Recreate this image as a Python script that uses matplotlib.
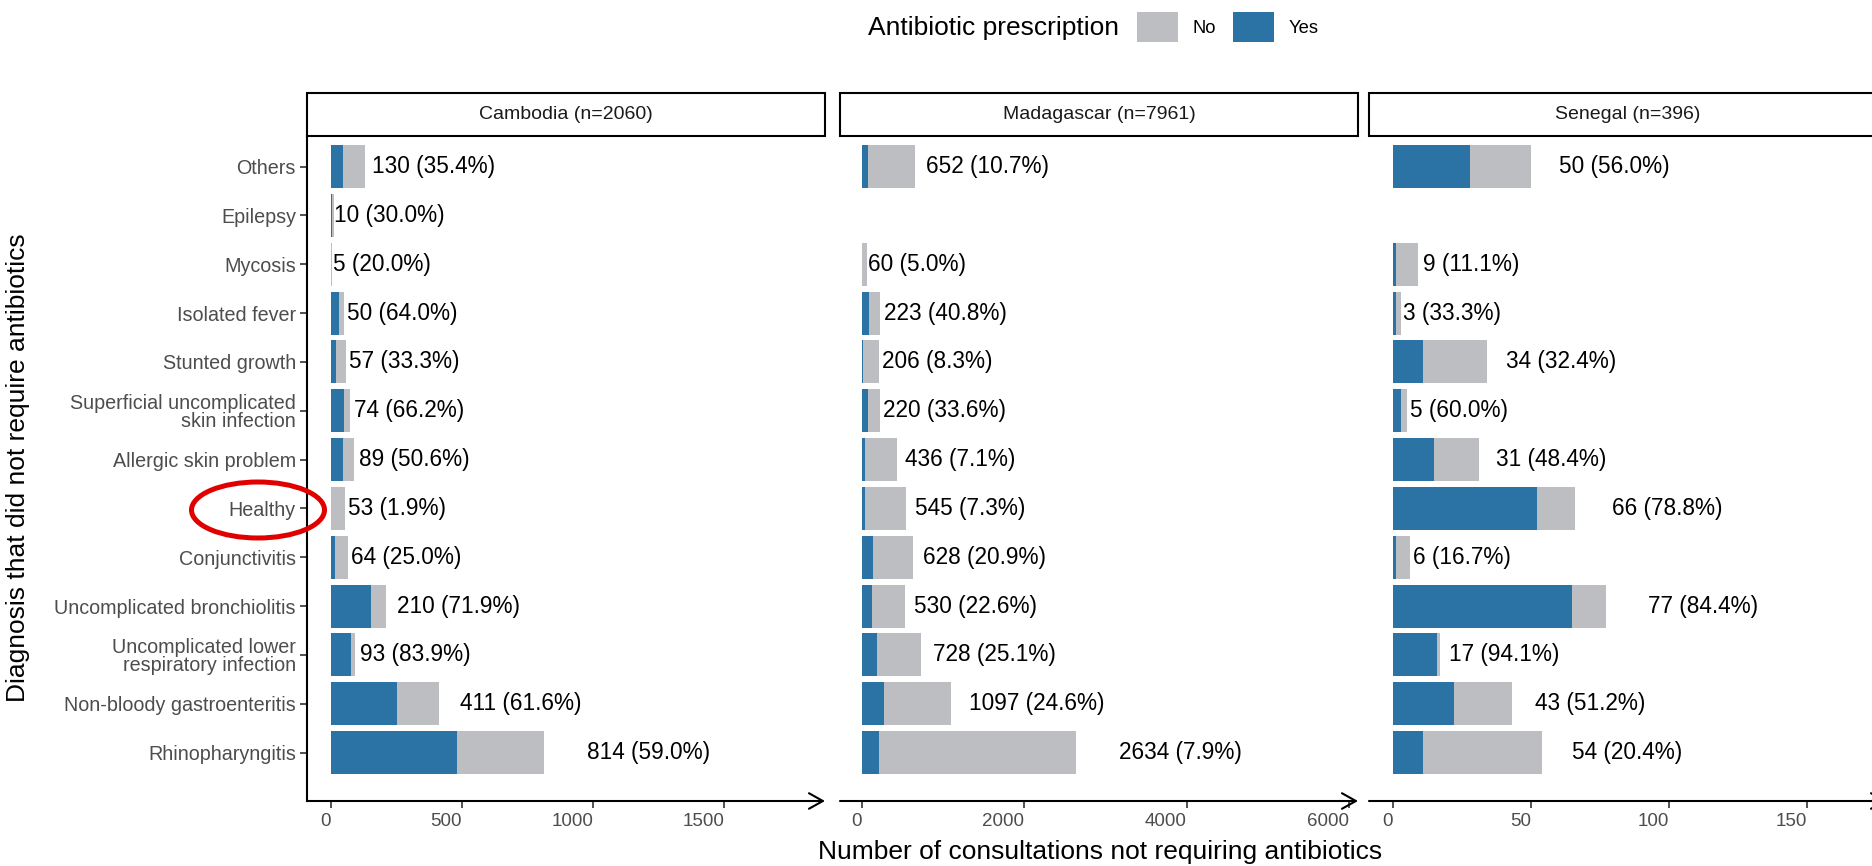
import numpy as np
import matplotlib
matplotlib.use("Agg")
import matplotlib.pyplot as plt
from matplotlib.patches import Rectangle, Ellipse, Patch

plt.rcParams['font.family'] = ['Liberation Sans', 'DejaVu Sans']

# ---------------- data ----------------
diagnoses = ["Others", "Epilepsy", "Mycosis", "Isolated fever", "Stunted growth",
             "Superficial uncomplicated\nskin infection", "Allergic skin problem", "Healthy",
             "Conjunctivitis", "Uncomplicated bronchiolitis",
             "Uncomplicated lower\nrespiratory infection", "Non-bloody gastroenteritis",
             "Rhinopharyngitis"]
countries = ["Cambodia (n=2060)", "Madagascar (n=7961)", "Senegal (n=396)"]

cambodia_total = [130, 10, 5, 50, 57, 74, 89, 53, 64, 210, 93, 411, 814]
cambodia_pct = [35.4, 30.0, 20.0, 64.0, 33.3, 66.2, 50.6, 1.9, 25.0, 71.9, 83.9, 61.6, 59.0]
madagascar_total = [652, np.nan, 60, 223, 206, 220, 436, 545, 628, 530, 728, 1097, 2634]
madagascar_pct = [10.7, np.nan, 5.0, 40.8, 8.3, 33.6, 7.1, 7.3, 20.9, 22.6, 25.1, 24.6, 7.9]
senegal_total = [50, np.nan, 9, 3, 34, 5, 31, 66, 6, 77, 17, 43, 54]
senegal_pct = [56.0, np.nan, 11.1, 33.3, 32.4, 60.0, 48.4, 78.8, 16.7, 84.4, 94.1, 51.2, 20.4]

x_ticks = [[0, 500, 1000, 1500], [0, 2000, 4000, 6000], [0, 50, 100, 150]]
x_limits = [(-91.6, 1885), (-272, 6111), (-8.7, 179)]

legend_title = "Antibiotic prescription"
legend_labels = ["No", "Yes"]
x_title = "Number of consultations not requiring antibiotics"
y_title = "Diagnosis that did not require antibiotics"

# ---------------- style ----------------
BLUE = "#2C73A5"
GRAY = "#BDBEC2"
W, H = 1872, 866

fig = plt.figure(figsize=(W / 100, H / 100), dpi=100)

panel_left_px = [307, 840, 1369]
panel_w_px = 518
panel_top_px, panel_bot_px = 136, 801
strip_h_px = 43

totals = [cambodia_total, madagascar_total, senegal_total]
pcts = [cambodia_pct, madagascar_pct, senegal_pct]
ypos = np.arange(len(diagnoses))

axes = []
for i in range(3):
    ax = fig.add_axes([panel_left_px[i] / W, 1 - panel_bot_px / H,
                       panel_w_px / W, (panel_bot_px - panel_top_px) / H])
    axes.append(ax)
    tot = np.array(totals[i], dtype=float)
    pc = np.array(pcts[i], dtype=float)
    yes = tot * pc / 100.0
    no = tot - yes
    ax.barh(ypos, yes, height=0.88, color=BLUE, linewidth=0)
    ax.barh(ypos, no, left=yes, height=0.88, color=GRAY, linewidth=0)
    for y, t, p in zip(ypos, tot, pc):
        if np.isnan(t):
            continue
        ax.text(t * 1.2, y, f"{int(t)} ({p:.1f}%)", ha="left", va="center",
                fontsize=16.3, color="black")
    ax.set_xlim(*x_limits[i])
    ax.set_ylim(12.99, -0.625)
    ax.set_xticks(x_ticks[i])
    ax.set_xticklabels([str(v) for v in x_ticks[i]], ha="right")
    ax.tick_params(axis="x", length=5, width=1.2, color="#333333",
                   labelsize=13.5, labelcolor="#4D4D4D", pad=4)
    for s in ["top", "right", "bottom"]:
        ax.spines[s].set_visible(False)
    if i == 0:
        ax.set_yticks(ypos)
        ax.set_yticklabels(diagnoses, fontsize=14.2, color="#4D4D4D", linespacing=0.95)
        ax.tick_params(axis="y", length=5, width=1.2, color="#333333", pad=3)
        ax.spines["left"].set_linewidth(1.5)
    else:
        ax.spines["left"].set_visible(False)
        ax.set_yticks([])
    ax.annotate("", xy=(1, 0), xytext=(0, 0), xycoords="axes fraction",
                textcoords="axes fraction", annotation_clip=False,
                arrowprops=dict(arrowstyle="->,head_length=0.5,head_width=0.28",
                                lw=1.5, color="black", shrinkA=0, shrinkB=0,
                                mutation_scale=20))
    # facet strip
    sh = strip_h_px / (panel_bot_px - panel_top_px)
    ax.add_patch(Rectangle((0, 1.0), 1, sh, transform=ax.transAxes, clip_on=False,
                           facecolor="white", edgecolor="black", linewidth=1.5))
    ax.text(0.5, 1 + sh / 2, countries[i], transform=ax.transAxes, ha="center",
            va="center", fontsize=14, color="#1A1A1A")

# axis titles
fig.text(18 / W, 1 - 468 / H, y_title, rotation=90, ha="center", va="center",
         fontsize=19, color="black")
fig.text(1100 / W, 1 - 852 / H, x_title, ha="center", va="center",
         fontsize=19, color="black")

# legend
fig.text(868 / W, 1 - 28 / H, legend_title, ha="left", va="center",
         fontsize=19, color="black")
handles = [Patch(facecolor=GRAY, edgecolor="none"), Patch(facecolor=BLUE, edgecolor="none")]
fig.legend(handles, legend_labels, ncol=2, frameon=False, fontsize=13.2,
           loc="center left", bbox_to_anchor=(1137 / W, 1 - 27 / H),
           borderpad=0, borderaxespad=0, handlelength=2.24, handleheight=2.2,
           handletextpad=0.8, columnspacing=0.9)

# red highlight ellipse around "Healthy"
fig.add_artist(Ellipse((258 / W, 1 - 510 / H), 133 / W, 56 / H,
                       transform=fig.transFigure, fill=False,
                       edgecolor="#E00000", linewidth=3.6, zorder=10))

fig.savefig("out.png", dpi=100)
